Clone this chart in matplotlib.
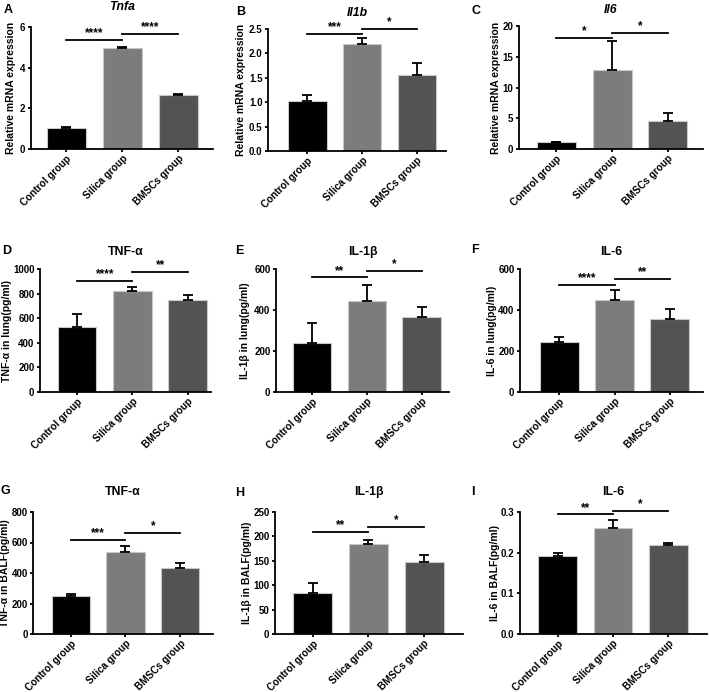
import matplotlib
matplotlib.use('Agg')
import matplotlib.pyplot as plt

plt.rcParams['font.family'] = ['Liberation Sans', 'DejaVu Sans']
plt.rcParams['font.weight'] = 'bold'

W, H = 709, 692

groups = ['Control group', 'Silica group', 'BMSCs group']
bar_colors = ['#000000', '#7c7c7c', '#535353']

# ---- data (means and upper error) ----
mrna_tnfa = [1.03, 4.95, 2.67]
mrna_tnfa_err = [0.03, 0.06, 0.04]
mrna_il1b = [1.02, 2.20, 1.55]
mrna_il1b_err = [0.12, 0.11, 0.25]
mrna_il6 = [1.1, 12.9, 4.6]
mrna_il6_err = [0.1, 4.6, 1.2]
lung_tnf = [530, 820, 745]
lung_tnf_err = [105, 30, 40]
lung_il1b = [240, 445, 365]
lung_il1b_err = [97, 75, 50]
lung_il6 = [245, 450, 358]
lung_il6_err = [22, 48, 45]
balf_tnf = [248, 540, 435]
balf_tnf_err = [12, 40, 28]
balf_il1b = [85, 185, 147]
balf_il1b_err = [20, 8, 14]
balf_il6 = [0.193, 0.260, 0.220]
balf_il6_err = [0.006, 0.020, 0.005]

sig_labels = {
    'A': ['****', '****'], 'B': ['***', '*'], 'C': ['*', '*'],
    'D': ['****', '**'], 'E': ['**', '*'], 'F': ['****', '**'],
    'G': ['***', '*'], 'H': ['**', '*'], 'I': ['**', '*'],
}
sig_heights = {
    'A': [5.35, 5.67], 'B': [2.40, 2.51], 'C': [18.1, 18.9],
    'D': [900, 973], 'E': [559, 589], 'F': [522, 550],
    'G': [617, 660], 'H': [210, 219], 'I': [0.294, 0.303],
}

titles = {'A': 'Tnfa', 'B': 'Il1b', 'C': 'Il6', 'D': 'TNF-α', 'E': 'IL-1β',
          'F': 'IL-6', 'G': 'TNF-α', 'H': 'IL-1β', 'I': 'IL-6'}
ylabels = {'A': 'Relative mRNA expression', 'B': 'Relative mRNA expression',
           'C': 'Relative mRNA expression', 'D': 'TNF-α in lung(pg/ml)',
           'E': 'IL-1β in lung(pg/ml)', 'F': 'IL-6 in lung(pg/ml)',
           'G': 'TNF-α in BALF(pg/ml)', 'H': 'IL-1β in BALF(pg/ml)',
           'I': 'IL-6 in BALF(pg/ml)'}
values = {'A': (mrna_tnfa, mrna_tnfa_err), 'B': (mrna_il1b, mrna_il1b_err),
          'C': (mrna_il6, mrna_il6_err), 'D': (lung_tnf, lung_tnf_err),
          'E': (lung_il1b, lung_il1b_err), 'F': (lung_il6, lung_il6_err),
          'G': (balf_tnf, balf_tnf_err), 'H': (balf_il1b, balf_il1b_err),
          'I': (balf_il6, balf_il6_err)}
yticks = {'A': [0, 2, 4, 6], 'B': [0.0, 0.5, 1.0, 1.5, 2.0, 2.5],
          'C': [0, 5, 10, 15, 20], 'D': [0, 200, 400, 600, 800, 1000],
          'E': [0, 200, 400, 600], 'F': [0, 200, 400, 600],
          'G': [0, 200, 400, 600, 800], 'H': [0, 50, 100, 150, 200, 250],
          'I': [0.0, 0.1, 0.2, 0.3]}
ytickfmt = {'B': '{:.1f}', 'I': '{:.1f}'}

# layout in pixels: left, right, top, bottom of axes
boxes = {'A': (31, 213, 27, 149), 'B': (268, 446, 29, 151), 'C': (519, 703, 26, 149),
         'D': (40, 211, 269, 392), 'E': (276, 449, 269, 392), 'F': (520, 703, 269, 392),
         'G': (33, 213, 512, 634), 'H': (275, 463, 512, 634), 'I': (520, 707, 512, 634)}
xlims = {'A': (-0.63, 2.62), 'B': (-0.72, 2.53), 'C': (-0.67, 2.63),
         'D': (-0.67, 2.42), 'E': (-0.66, 2.5), 'F': (-0.71, 2.6),
         'G': (-0.69, 2.6), 'H': (-0.68, 2.7), 'I': (-0.68, 2.7)}
letter_pos = {'A': (8, 10), 'B': (241, 12), 'C': (476, 11), 'D': (7, 251),
              'E': (239, 251), 'F': (475, 250), 'G': (5, 491), 'H': (240, 493),
              'I': (473, 492)}
ylabel_x = {'A': 11, 'B': 241, 'C': 496, 'D': 7, 'E': 245, 'F': 492,
            'G': 5.5, 'H': 247, 'I': 495}
title_gap = {'A': 20, 'B': 16, 'C': 16, 'D': 17, 'E': 17, 'F': 17,
             'G': 20, 'H': 20, 'I': 20}

fig = plt.figure(figsize=(W / 100, H / 100), dpi=100)

for key in 'ABCDEFGHI':
    l, r, t, b = boxes[key]
    ax = fig.add_axes([l / W, (H - b) / H, (r - l) / W, (b - t) / H])
    vals, errs = values[key]
    x = list(range(len(groups)))
    ax.bar(x, vals, width=0.7, color=bar_colors, edgecolor='#c8c8c8',
           linewidth=0.8, zorder=2)
    ax.errorbar(x, vals, yerr=[[0] * 3, errs], fmt='none', ecolor='black',
                elinewidth=1.3, capsize=3.5, capthick=1.3, zorder=3)
    yt = yticks[key]
    ax.set_ylim(yt[0], yt[-1])
    ax.set_xlim(*xlims[key])
    ax.set_yticks(yt)
    f = ytickfmt.get(key, '{:g}')
    ax.set_yticklabels([f.format(v) for v in yt], fontsize=7, fontweight='bold')
    ax.set_xticks(x)
    ax.set_xticklabels(groups, rotation=45, ha='right', rotation_mode='anchor',
                       fontsize=7.2, fontweight='bold')
    for s in ['top', 'right']:
        ax.spines[s].set_visible(False)
    for s in ['left', 'bottom']:
        ax.spines[s].set_linewidth(1.3)
    ax.tick_params(axis='both', direction='out', length=2.5, width=1.3, pad=1.5)
    ax.tick_params(axis='x', pad=0.8)
    if key == 'G':
        ax.tick_params(axis='y', pad=1.0)

    # significance
    for i, (h, lab) in enumerate(zip(sig_heights[key], sig_labels[key])):
        ax.plot([i, i + 1], [h, h], color='black', lw=1.3, clip_on=False, zorder=4)
        ax.annotate(lab, xy=(i + 0.5, h), xytext=(0, 0.5), textcoords='offset points',
                    ha='center', va='bottom', fontsize=8.5, annotation_clip=False)

    # title
    style = 'italic' if key in 'ABC' else 'normal'
    cx = (l + r) / 2
    fig.text(cx / W, (H - (t - title_gap[key])) / H, titles[key], ha='center',
             va='center', fontsize=8.8, fontweight='bold', fontstyle=style)
    # letter
    lx, ly = letter_pos[key]
    fig.text(lx / W, (H - ly) / H, key, ha='center', va='center', fontsize=9,
             fontweight='bold')
    # ylabel
    fig.text(ylabel_x[key] / W, (H - (t + b) / 2) / H, ylabels[key], rotation=90,
             ha='center', va='center', fontsize=7.5, fontweight='bold')

fig.savefig('out.png', dpi=100)
